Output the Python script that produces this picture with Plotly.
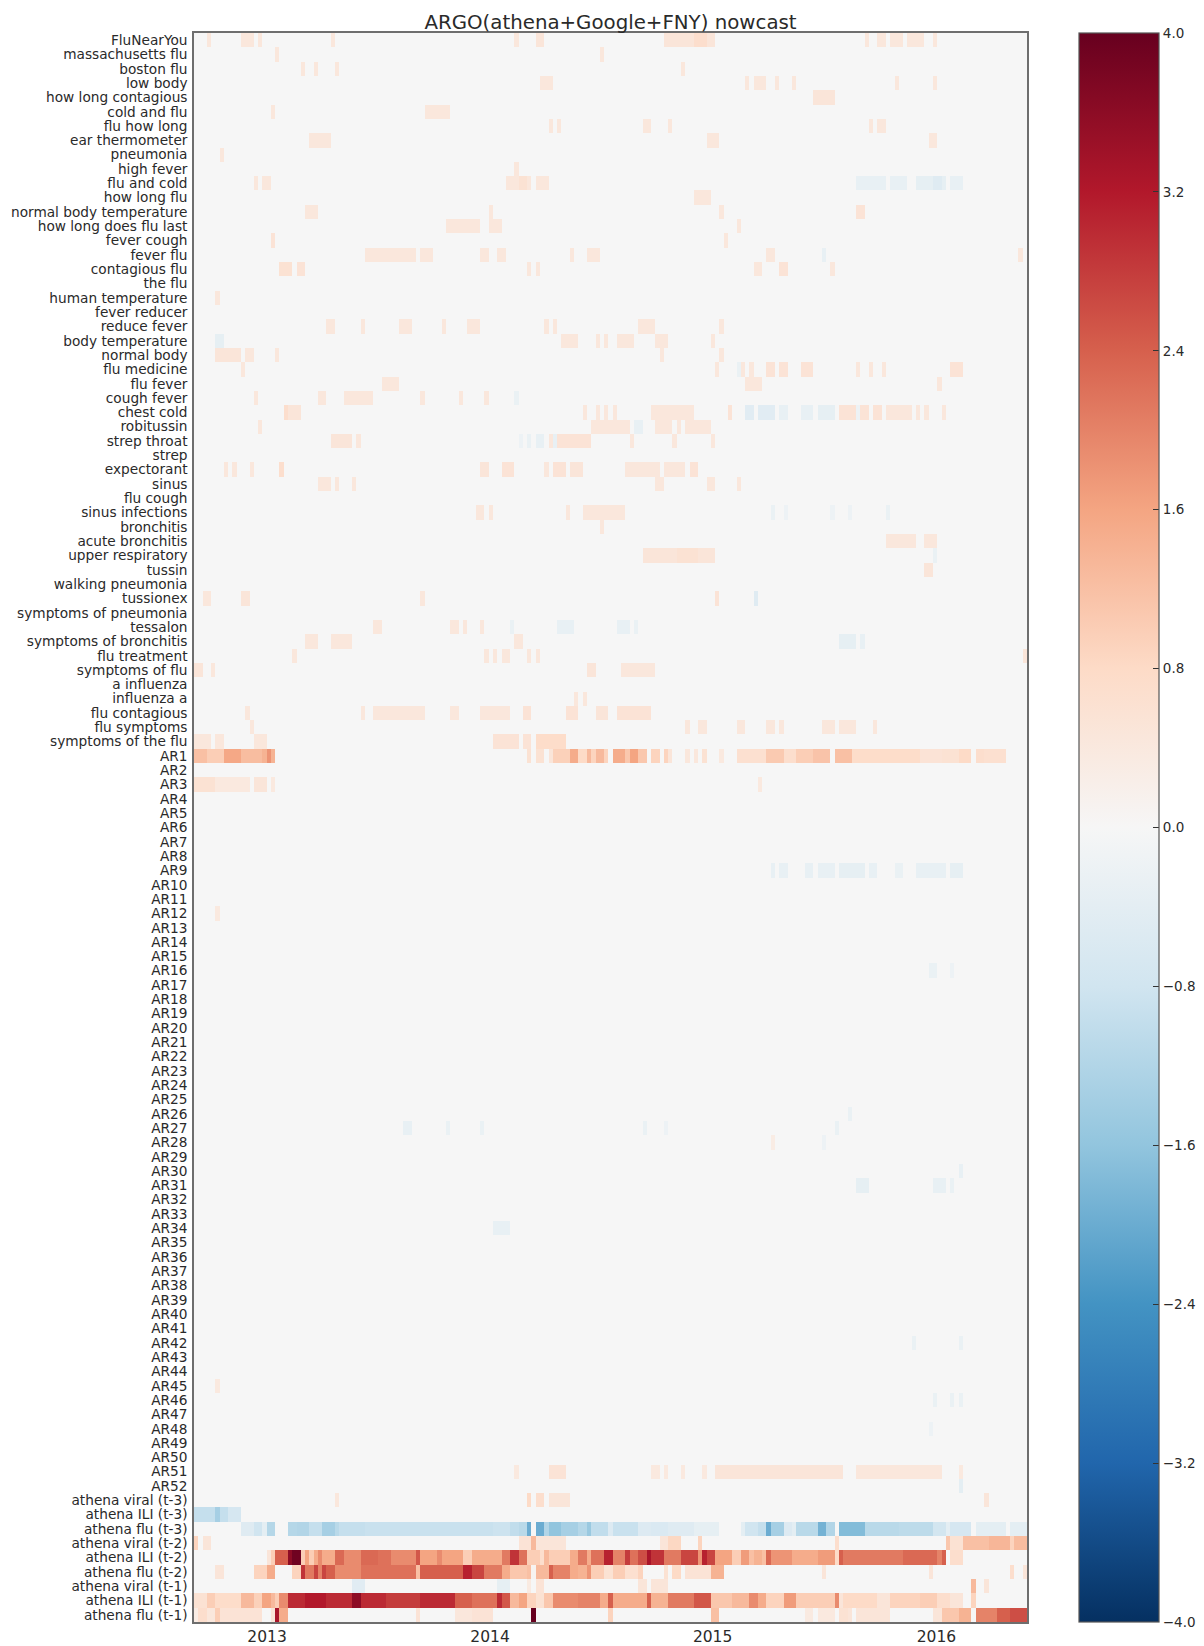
import numpy as np
import plotly.graph_objects as go

TITLE = "ARGO(athena+Google+FNY) nowcast"
N_WEEKS = 195
year_ticks = [16.6, 68.8, 120.9, 173.3]
year_labels = ["2013", "2014", "2015", "2016"]
cbar_ticks = [-4.0, -3.2, -2.4, -1.6, -0.8, 0.0, 0.8, 1.6, 2.4, 3.2, 4.0]

# Each run: (first week, last week + 1[, value]); default value is the pale orange level.
PALE = 0.45

query_runs = {
    "FluNearYou": [(3,4),(11,14),(15,16),(32,33),(75,76),(80,82,.5),(110,117,.5),(117,120,.7),(120,122,.5),(157,158),(160,162),(163,166),(167,171),(173,174)],
    "massachusetts flu": [(19,20),(95,96)],
    "boston flu": [(25,26),(28,29),(33,34),(114,115)],
    "low body": [(81,84),(129,130),(131,134),(136,137),(140,141),(164,165),(173,174)],
    "how long contagious": [(145,150,.5)],
    "cold and flu": [(18,19),(54,60)],
    "flu how long": [(83,84),(85,86),(105,107),(111,112),(158,159),(160,162)],
    "ear thermometer": [(27,32),(120,123),(172,174)],
    "pneumonia": [(6,7)],
    "high fever": [(75,76)],
    "flu and cold": [(14,15),(16,18),(73,76),(76,78,.6),(78,79),(80,83),(155,162,-.3),(163,167,-.3),(169,173,-.35),(173,175,-.5),(175,176,-.35),(177,180,-.3)],
    "how long flu": [(117,121)],
    "normal body temperature": [(26,29),(69,70),(123,124),(155,157,.55)],
    "how long does flu last": [(59,67),(69,72),(127,128)],
    "fever cough": [(18,19,.55),(124,125)],
    "fever flu": [(40,52),(53,56),(67,69),(71,73),(88,89),(92,95),(134,136),(147,148,-.3),(193,194)],
    "contagious flu": [(20,23,.6),(24,26,.55),(78,79),(80,81),(131,133),(137,139,.55),(149,150)],
    "the flu": [],
    "human temperature": [(5,6)],
    "fever reducer": [],
    "reduce fever": [(31,33),(39,40),(48,51),(58,59),(64,67),(82,83),(84,85),(104,108),(123,124)],
    "body temperature": [(5,7,-.35),(86,90),(94,95),(96,97),(99,103),(108,111),(121,122)],
    "normal body": [(5,11,.5),(12,14),(19,20),(109,110),(123,124)],
    "flu medicine": [(11,12),(122,123),(127,128,-.25),(128,129),(130,131),(134,136,.55),(137,139,.55),(142,145,.55),(155,156),(158,159),(161,162),(177,180,.55)],
    "flu fever": [(44,48),(129,133),(174,175)],
    "cough fever": [(14,15),(29,31),(35,42),(53,54),(62,63),(68,69),(75,76,-.25)],
    "chest cold": [(21,22,.7),(22,25,.5),(91,92),(94,95),(96,97),(98,99),(107,117),(125,126,.55),(129,131,-.45),(132,136,-.45),(137,139,-.3),(142,145,-.3),(146,150,-.35),(151,155,.55),(155,156,-.2),(156,158,.55),(159,161,.55),(162,168),(169,170),(171,172),(175,176)],
    "robitussin": [(15,16),(93,102),(103,105,-.3),(108,112),(113,114),(115,121)],
    "strep throat": [(32,37,.5),(38,39),(76,77,-.2),(78,79,-.25),(80,82,-.3),(83,84),(84,85,-.3),(85,93,.55),(102,103),(112,113),(121,122)],
    "strep": [],
    "expectorant": [(7,8),(9,10),(13,14),(20,21,.7),(67,69,.5),(72,75,.55),(82,83),(84,87,.55),(88,91,.5),(101,109),(110,115),(116,118,.55)],
    "sinus": [(29,32),(33,34),(37,38),(108,110),(120,122),(127,128)],
    "flu cough": [],
    "sinus infections": [(66,68),(69,70),(87,88),(91,101),(135,136,-.25),(138,139,-.2),(149,150,-.2),(153,154,-.2),(162,163,-.25)],
    "bronchitis": [(95,96)],
    "acute bronchitis": [(162,169),(171,174)],
    "upper respiratory": [(105,113,.5),(113,118,.6),(118,122,.5),(173,174,-.25)],
    "tussin": [(171,173,.5)],
    "walking pneumonia": [],
    "tussionex": [(2,4),(11,13,.5),(53,54),(122,123,.55),(131,132,-.5)],
    "symptoms of pneumonia": [],
    "tessalon": [(42,44),(60,62),(63,64),(67,68),(74,75,-.25),(85,89,-.3),(99,102,-.3),(103,104,-.25)],
    "symptoms of bronchitis": [(26,29),(32,37),(75,77),(151,155,-.35),(156,157,-.3)],
    "flu treatment": [(23,24),(68,69),(70,71),(72,74),(78,79),(80,81),(194,195,.5)],
    "symptoms of flu": [(0,2,.5),(4,5),(92,94,.5),(100,108)],
    "a influenza": [],
    "influenza a": [(89,90),(91,92)],
    "flu contagious": [(12,13),(39,40),(42,54),(60,62),(67,74),(77,79,.55),(87,90,.55),(94,97,.5),(99,107,.55)],
    "flu symptoms": [(13,14),(115,116),(118,120),(127,129),(134,136),(137,138),(147,150),(151,155),(159,160)],
    "symptoms of the flu": [(0,4),(5,7),(14,17),(70,76,.55),(77,79,.55),(80,87,.75)],
}

ar_runs = {
    1: [(0,3,1.2),(3,7,1.0),(7,11,1.55),(11,16,1.25),(16,17,1.4),(17,18,1.8),(18,19,1.4),
        (78,79,.6),(80,82,.6),(83,84,.5),(84,88,.95),(88,90,1.5),(90,92,.8),(92,93,1.3),(93,94,.9),(94,96,1.3),(96,97,.9),
        (98,101,1.5),(101,102,1.1),(102,104,1.6),(104,106,1.1),(107,109,.9),(110,111,.9),(111,112,.5),
        (115,116,.45),(117,118,.45),(119,120,.6),(123,124,.4),(127,134,.65),(134,138,1.05),(138,141,.7),
        (141,145,1.0),(145,149,1.15),(150,154,1.2),(154,170,.75),(170,175,.55),(175,179,.6),(179,182,.8),(183,185,.7),(185,190,.65)],
    3: [(0,5,.6),(5,13,.4),(14,17,.5),(18,19,.4),(132,133,.4)],
    9: [(135,136,-.3),(137,139,-.3),(143,145,-.3),(146,150,-.3),(151,157,-.35),(158,160,-.3),(164,166,-.25),(169,176,-.3),(177,180,-.35)],
    12: [(5,6,.4)],
    16: [(172,174,-.25),(177,178,-.2)],
    26: [(153,154,-.25)],
    27: [(49,51,-.3),(59,60,-.25),(67,68,-.25),(105,106,-.25),(110,111,-.2),(150,151,-.25)],
    28: [(135,136,.3),(147,148,-.2)],
    30: [(179,180,-.3)],
    31: [(155,158,-.35),(173,176,-.3),(177,178,-.25)],
    34: [(70,74,-.3)],
    42: [(168,169,-.25),(179,180,-.25)],
    45: [(5,6,.4)],
    46: [(173,174,-.25),(177,178,-.25),(179,180,-.25)],
    48: [(172,173,-.2)],
    51: [(75,76,.4),(83,87,.55),(107,109,.4),(110,111,.4),(114,115,.4),(119,120,.4),(122,152,.5),(155,175,.45),(179,180,.4)],
    52: [(179,180,-.4)],
}

athena_runs = {
    "athena viral (t-3)": [(33,34,.45),(78,79,.8),(80,82,.7),(83,88,.5),(185,186,.5)],
    "athena ILI (t-3)": [(0,5,-.95),(5,6,-1.35),(6,8,-.95),(8,11,-.7)],
    "athena flu (t-3)": [(11,14,-.5),(14,16,-.8),(16,17,-.4),(17,19,-1.15),(22,24,-1.15),(24,27,-1.2),(27,30,-.95),(30,33,-1.35),(33,34,-1.1),
        (34,40,-.95),(40,50,-.9),(50,70,-.9),(70,74,-.85),(74,76,-1.),(76,78,-1.1),(78,79,-2.),(80,82,-2.),(82,83,-1.2),(83,86,-1.6),(86,90,-1.35),
        (90,92,-1.15),(92,93,-1.5),(93,97,-1.),(97,98,-.55),(98,104,-.9),(104,107,-.55),(107,111,-.6),(111,117,-.5),(117,123,-.35),
        (128,129,-.4),(129,132,-.8),(132,134,-.95),(134,135,-2.),(135,138,-1.35),(138,140,-.55),(140,141,-.4),(141,146,-1.1),(146,148,-1.9),(148,150,-1.2),
        (151,153,-1.75),(153,157,-1.75),(157,165,-1.1),(165,173,-1.05),(173,176,-.75),(176,177,-.4),(177,182,-.7),(183,190,-.4),(191,195,-.4)],
    "athena viral (t-2)": [(0,1,.9),(2,4,.5),(76,79,.55),(79,80,1.3),(80,87,.5),(109,111,.5),(111,114,.85),(118,119,.9),(150,151,.7),(176,177,1.1),(177,180,.6),(180,186,1.2),(186,191,1.35),(191,192,.9),(192,195,1.25)],
    "athena ILI (t-2)": [(17,18,.5),(18,19,1.),(19,22,2.4),(22,23,3.6),(23,25,3.9),(25,26,1.),(26,27,1.6),(27,28,1.),(28,29,1.5),(29,30,1.9),(30,33,1.5),
        (33,35,2.3),(35,39,1.9),(39,43,2.3),(43,46,2.2),(46,52,1.9),(52,53,2.5),(53,57,1.6),(57,58,1.9),(58,63,1.6),(63,65,1.),(65,72,1.5),(72,74,2.1),(74,76,2.9),(76,78,2.2),
        (78,81,1.),(81,82,.7),(82,83,1.3),(83,88,1.),(88,90,1.5),(90,92,2.1),(92,93,1.5),(93,96,2.2),(96,98,3.1),(98,101,2.),(101,102,2.8),(102,104,2.2),(104,106,2.6),(106,107,3.3),(107,110,2.9),
        (110,114,2.1),(114,118,2.7),(118,119,1.8),(119,120,3.1),(120,122,2.7),(122,126,1.6),(126,128,1.),(128,130,1.7),(130,131,1.2),(131,133,1.4),(133,134,1.2),(134,135,2.3),
        (135,140,1.8),(140,146,1.5),(146,150,1.7),(150,151,.8),(151,152,2.4),(152,166,2.1),(166,174,2.3),(174,175,2.),(175,176,2.4),(177,180,.7)],
    "athena flu (t-2)": [(5,7,.5),(14,17,.9),(17,19,1.5),(23,25,.9),(25,26,2.9),(26,28,2.1),(28,29,2.7),(29,30,2.),(30,31,2.7),(31,33,2.4),(33,39,1.9),(39,52,2.2),(52,53,1.2),
        (53,63,2.4),(63,65,3.1),(65,68,2.7),(68,72,2.1),(72,74,1.5),(74,78,1.1),(78,79,1.2),(79,80,.1),(80,83,1.3),(83,84,2.4),(84,88,2.),(88,90,1.5),(90,92,1.4),(92,93,1.8),(93,96,1.),(96,98,.6),
        (98,101,1.),(101,104,.65),(104,105,.9),(110,111,.6),(112,114,.8),(115,121,.55),(121,124,1.4),(147,148,.5),(172,173,.5),(191,192,.7),(194,195,.5)],
    "athena viral (t-1)": [(37,40,-.45),(71,74,-.35),(78,79,.35),(80,82,.55),(104,106,.5),(107,111,.5),(182,183,1.3),(185,186,.5)],
    "athena ILI (t-1)": [(0,3,.6),(3,5,1.),(5,11,.75),(11,14,1.3),(14,16,.95),(16,18,1.6),(18,19,1.3),(19,20,1.),(20,22,1.9),(22,26,3.),(26,31,3.2),(31,37,3.),(37,39,3.6),(39,45,3.),(45,53,2.8),(53,61,3.),(61,65,2.4),
        (65,71,2.2),(71,72,3.),(72,74,2.5),(74,76,1.3),(76,78,1.6),(78,80,.9),(80,82,.6),(82,84,1.1),(84,90,1.9),(90,95,2.),(95,97,1.5),(97,98,2.4),(98,106,1.5),(106,107,2.4),(107,111,1.4),(111,117,2.1),(117,121,2.5),(121,126,1.1),
        (126,130,1.3),(130,132,1.9),(132,134,1.5),(134,138,.9),(138,141,1.7),(141,150,1.),(150,151,1.9),(151,152,.5),(152,160,.8),(160,163,.5),(163,170,.9),(170,174,1.),(174,177,.7),(177,180,.5),(182,183,.9)],
    "athena flu (t-1)": [(0,1,.3),(1,3,.7),(3,5,.45),(5,6,1.),(6,16,.55),(18,19,.5),(19,20,3.3),(20,22,1.5),(52,53,.55),(61,65,.45),(65,70,.55),(79,80,4.),(97,98,.9),(121,123,1.2),(143,145,.35),(146,150,.4),(151,153,.6),(153,154,.5),(155,163,.5),
        (173,175,.5),(175,179,1.1),(179,182,1.4),(183,188,2.),(188,191,2.4),(191,195,2.6)],
}

ar_labels = [f"AR{i}" for i in range(1, 53)]
labels = list(query_runs) + ar_labels + list(athena_runs)

z = np.zeros((len(labels), N_WEEKS))
all_runs = {**query_runs, **{f"AR{k}": v for k, v in ar_runs.items()}, **athena_runs}
for name, runs in all_runs.items():
    i = labels.index(name)
    for run in runs:
        v = run[2] if len(run) == 3 else PALE
        z[i, run[0]:run[1]] = v

RdBu_r = ["#053061", "#2166ac", "#4393c3", "#92c5de", "#d1e5f0", "#f6f6f6",
          "#fddbc7", "#f4a582", "#d6604d", "#b2182b", "#67001f"]
colorscale = [[i / 10, c] for i, c in enumerate(RdBu_r)]

FONT = "DejaVu Sans"
TEXT = "#2a2a2a"
# The page adds an 8px body margin, so the figure's origin sits at (8, 8).
W, H = 1196, 1638
L, R, T, B = 186, 1019, 25, 1614
fig = go.Figure(go.Heatmap(
    z=z, x=list(range(N_WEEKS)), y=list(range(len(labels))),
    zmin=-4, zmax=4, colorscale=colorscale, zsmooth=False,
    colorbar=dict(
        x=(1071 - L) / (R - L), xanchor="left", xpad=0, y=0.5, yanchor="middle", ypad=0,
        len=1, lenmode="fraction", thickness=80, thicknessmode="pixels",
        tickvals=cbar_ticks, tickformat=".1f", ticks="inside", ticklen=6, tickwidth=1, tickcolor="#333",
        outlinecolor="#555", outlinewidth=1.2, tickfont=dict(family=FONT, size=13.5, color=TEXT),
    ),
))
fig.update_layout(
    width=W, height=H, autosize=False,
    margin=dict(l=L, r=W - R, t=T, b=H - B, autoexpand=False, pad=0),
    paper_bgcolor="white", plot_bgcolor="white",
    title=dict(text=TITLE, x=(L + R) / 2 / W, xanchor="center", y=1 - 14 / H, yanchor="middle",
               font=dict(family=FONT, size=19.8, color=TEXT)),
    font=dict(family=FONT, color=TEXT),
    xaxis=dict(range=[-0.5, N_WEEKS - 0.5], tickvals=year_ticks, ticktext=year_labels, ticks="",
               showgrid=False, zeroline=False, showline=True, mirror=True, linecolor="#6e6e6e", linewidth=1.5,
               tickfont=dict(family=FONT, size=15.5, color=TEXT)),
    yaxis=dict(range=[len(labels) - 0.5, -0.5], tickvals=list(range(len(labels))), ticktext=labels,
               ticks="outside", ticklen=2, tickwidth=1, tickcolor="white",
               showgrid=False, zeroline=False, showline=True, mirror=True, linecolor="#6e6e6e", linewidth=1.5,
               tickfont=dict(family=FONT, size=13.7, color=TEXT)),
)
fig.write_html("out.html")
